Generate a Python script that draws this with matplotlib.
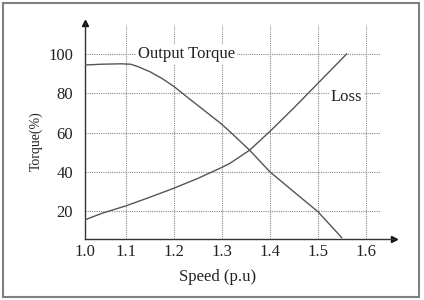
import numpy as np
import matplotlib
matplotlib.use('Agg')
import matplotlib.pyplot as plt
from matplotlib.patches import Rectangle

plt.rcParams['font.family'] = ['Liberation Serif', 'DejaVu Serif']

# speed (p.u) where the axis starts; drawn with the "1.0" label
x0 = 1.015

################   Data   ####################
speed_torque = [x0, 1.05, 1.09, 1.11, 1.125, 1.15, 1.175, 1.2, 1.225, 1.25, 1.275,
                1.3, 1.317, 1.358, 1.4, 1.45, 1.5, 1.55]
output_torque = [94.4, 94.8, 95.0, 94.8, 93.6, 91.0, 87.6, 83.5, 78.6, 73.8, 69.0,
                 64.2, 60.4, 51.0, 40.0, 29.8, 19.7, 6.4]

speed_loss = [x0, 1.05, 1.1, 1.15, 1.2, 1.25, 1.3, 1.317, 1.358, 1.4, 1.45, 1.5, 1.56]
loss = [15.5, 18.8, 22.6, 27.0, 31.6, 36.6, 42.2, 44.3, 51.0, 60.5, 72.5, 85.0, 100.0]

xticks = [x0, 1.1, 1.2, 1.3, 1.4, 1.5, 1.6]
xticklabels = ['1.0', '1.1', '1.2', '1.3', '1.4', '1.5', '1.6']
yticks = [20, 40, 60, 80, 100]

################   Plot   ####################
W, H = 424, 300
fig = plt.figure(figsize=(W / 100, H / 100), dpi=100)
ax = fig.add_axes([85 / W, (H - 239) / H, (394 - 85) / W, (239 - 23) / H])

xmax = x0 + (394 - 85) / 480.
ymin, ymax = 5.73, 115.8
ax.set_xlim(x0, xmax)
ax.set_ylim(ymin, ymax)

grid_kw = dict(colors='#8a8a8a', linestyles=(0, (1, 1)), linewidth=0.8, zorder=1)
ax.vlines(xticks[1:], ymin, 114.8, **grid_kw)
ax.hlines(yticks, x0, x0 + (380 - 85) / 480., **grid_kw)

ax.plot(speed_torque, output_torque, color='#555555', lw=1.0, zorder=3)
ax.plot(speed_loss, loss, color='#555555', lw=1.0, zorder=3)

ax.text(1.227, 100, 'Output Torque', fontsize=12, color='#222222', ha='center', va='center',
        bbox=dict(facecolor='white', edgecolor='none', pad=1.5), zorder=4)
ax.text(1.56, 78.3, 'Loss', fontsize=12, color='#222222', ha='center', va='center',
        bbox=dict(facecolor='white', edgecolor='none', pad=1.5), zorder=4)

for s in ['top', 'right']:
    ax.spines[s].set_visible(False)
for s in ['left', 'bottom']:
    ax.spines[s].set_color('#333333')
    ax.spines[s].set_linewidth(1.0)
ax.plot(1, 0, '>', color='#111111', ms=4, transform=ax.transAxes, clip_on=False)
ax.plot(0, 1, '^', color='#111111', ms=4, transform=ax.transAxes, clip_on=False)

ax.set_xticks(xticks)
ax.set_xticklabels(xticklabels)
ax.set_yticks(yticks)
ax.tick_params(length=0, labelsize=12, labelcolor='#222222')
ax.tick_params(axis='y', pad=8.6)
ax.tick_params(axis='x', pad=3.6)

ax.set_xlabel('Speed (p.u)', fontsize=12, color='#222222')
ax.xaxis.set_label_coords(0.43, -0.14)
ax.set_ylabel('Torque(%)', fontsize=10, color='#222222')
ax.yaxis.set_label_coords(-0.137, 0.454)

fig.add_artist(Rectangle((2.5 / W, 3 / H), (419 - 2.5) / W, (297 - 3) / H,
                         transform=fig.transFigure, fill=False, edgecolor='#808080', lw=1.5))

fig.savefig('out.png', dpi=100)
